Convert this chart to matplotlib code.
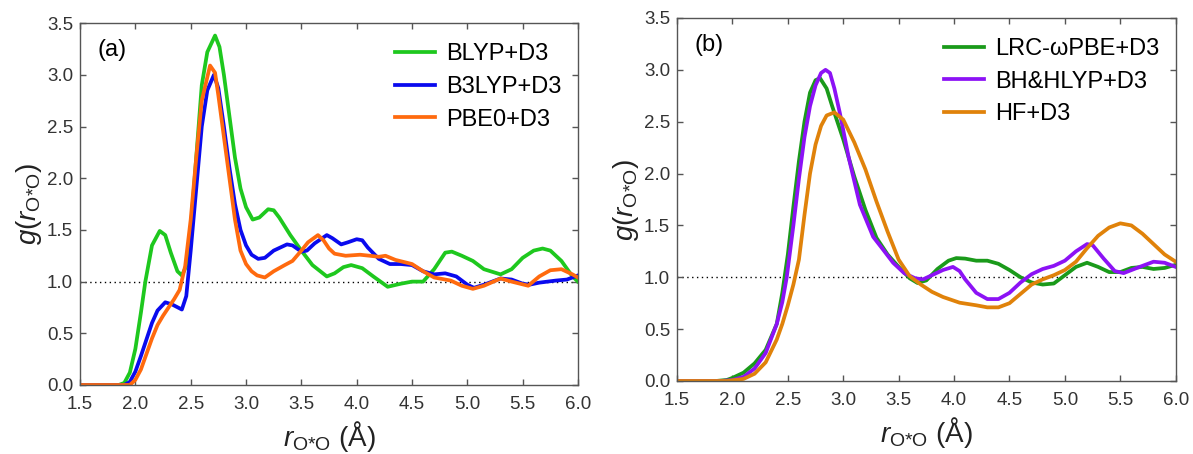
import numpy as np
import matplotlib
matplotlib.use("Agg")
import matplotlib.pyplot as plt

plt.rcParams['font.family'] = ['Liberation Sans', 'DejaVu Sans']
plt.rcParams['mathtext.fontset'] = 'custom'
plt.rcParams['mathtext.rm'] = 'Liberation Sans'
plt.rcParams['mathtext.it'] = 'Liberation Sans:italic'

# ---- panel (a) ----
r_blyp = [1.5, 1.85, 1.9, 1.95, 2.0, 2.05, 2.09, 2.15, 2.22, 2.27, 2.32, 2.38, 2.42, 2.46, 2.5, 2.55,
          2.6, 2.65, 2.72, 2.76, 2.8, 2.85, 2.9, 2.95, 3.0, 3.06, 3.12, 3.2, 3.25, 3.3, 3.4,
          3.5, 3.6, 3.73, 3.8, 3.88, 3.95, 4.05, 4.15, 4.28, 4.4, 4.5, 4.6, 4.7, 4.8, 4.86,
          4.95, 5.05, 5.15, 5.3, 5.4, 5.5, 5.6, 5.68, 5.75, 5.85, 5.95, 6.0]
g_blyp = [0.0, 0.0, 0.02, 0.12, 0.35, 0.7, 1.0, 1.35, 1.49, 1.45, 1.28, 1.1, 1.06, 1.15, 1.5, 2.2,
          2.9, 3.22, 3.38, 3.27, 3.0, 2.6, 2.2, 1.9, 1.72, 1.6, 1.62, 1.7, 1.69, 1.62, 1.45,
          1.3, 1.16, 1.05, 1.08, 1.14, 1.16, 1.13, 1.05, 0.95, 0.98, 1.0, 1.0, 1.12, 1.28, 1.29,
          1.25, 1.2, 1.12, 1.07, 1.12, 1.23, 1.3, 1.32, 1.3, 1.2, 1.05, 1.0]

r_b3lyp = [1.5, 1.9, 1.95, 2.0, 2.05, 2.1, 2.15, 2.2, 2.27, 2.33, 2.42, 2.46, 2.5, 2.55, 2.6, 2.65,
           2.71, 2.75, 2.8, 2.85, 2.9, 2.95, 3.0, 3.05, 3.11, 3.17, 3.25, 3.37, 3.42, 3.5, 3.55,
           3.62, 3.73, 3.78, 3.86, 3.92, 4.0, 4.05, 4.1, 4.2, 4.3, 4.4, 4.5, 4.6, 4.7, 4.8, 4.9,
           5.0, 5.06, 5.15, 5.3, 5.4, 5.5, 5.56, 5.65, 5.8, 5.9, 6.0]
g_b3lyp = [0.0, 0.0, 0.03, 0.13, 0.28, 0.44, 0.6, 0.72, 0.8, 0.78, 0.73, 0.86, 1.3, 1.9, 2.5, 2.85,
           3.0, 2.87, 2.5, 2.1, 1.75, 1.5, 1.35, 1.26, 1.22, 1.23, 1.3, 1.36, 1.35, 1.29, 1.3,
           1.37, 1.45, 1.42, 1.36, 1.38, 1.41, 1.4, 1.33, 1.22, 1.17, 1.17, 1.16, 1.1, 1.07, 1.08, 1.05,
           0.97, 0.94, 0.97, 1.03, 1.02, 0.98, 0.97, 0.99, 1.01, 1.02, 1.06]

r_pbe0 = [1.5, 1.95, 2.0, 2.05, 2.1, 2.15, 2.2, 2.25, 2.3, 2.35, 2.4, 2.45, 2.5, 2.55, 2.6, 2.675,
          2.72, 2.75, 2.8, 2.85, 2.9, 2.95, 3.0, 3.05, 3.1, 3.17, 3.25, 3.35, 3.42, 3.5, 3.56,
          3.65, 3.7, 3.75, 3.8, 3.9, 4.03, 4.12, 4.2, 4.26, 4.35, 4.5, 4.6, 4.7, 4.85, 4.95,
          5.05, 5.15, 5.3, 5.4, 5.55, 5.65, 5.75, 5.85, 5.95, 6.0]
g_pbe0 = [0.0, 0.0, 0.05, 0.15, 0.3, 0.45, 0.58, 0.67, 0.75, 0.83, 0.92, 1.15, 1.6, 2.2, 2.75, 3.09,
          3.02, 2.8, 2.4, 2.0, 1.6, 1.3, 1.17, 1.1, 1.06, 1.04, 1.1, 1.16, 1.2, 1.3, 1.38,
          1.45, 1.4, 1.32, 1.27, 1.25, 1.26, 1.25, 1.24, 1.25, 1.21, 1.17, 1.1, 1.04, 1.01, 0.96,
          0.93, 0.96, 1.03, 1.0, 0.96, 1.05, 1.11, 1.12, 1.07, 1.04]

# ---- panel (b) ----
r_lrc = [1.5, 1.85, 1.95, 2.0, 2.1, 2.2, 2.3, 2.4, 2.45, 2.5, 2.55, 2.6, 2.65, 2.7, 2.75, 2.79,
         2.85, 2.9, 3.0, 3.1, 3.2, 3.3, 3.4, 3.5, 3.6, 3.67, 3.75, 3.85, 3.95, 4.02, 4.1, 4.2,
         4.3, 4.4, 4.5, 4.6, 4.7, 4.8, 4.9, 5.0, 5.1, 5.2, 5.3, 5.4, 5.5, 5.6, 5.7, 5.8, 5.9, 6.0]
g_lrc = [0.0, 0.0, 0.01, 0.03, 0.08, 0.17, 0.3, 0.55, 0.85, 1.22, 1.68, 2.12, 2.5, 2.78, 2.9, 2.92,
         2.82, 2.65, 2.33, 1.97, 1.65, 1.38, 1.22, 1.1, 0.99, 0.945, 0.97, 1.08, 1.16, 1.185, 1.18, 1.16,
         1.16, 1.13, 1.07, 1.0, 0.95, 0.93, 0.94, 1.02, 1.1, 1.14, 1.1, 1.05, 1.05, 1.09, 1.1, 1.08, 1.09, 1.12]

r_bhh = [1.5, 1.9, 2.0, 2.1, 2.2, 2.3, 2.4, 2.45, 2.49, 2.55, 2.6, 2.65, 2.7, 2.75, 2.8, 2.84,
         2.88, 2.92, 2.97, 3.05, 3.15, 3.27, 3.35, 3.45, 3.55, 3.65, 3.72, 3.8, 3.9, 3.99, 4.05,
         4.1, 4.2, 4.3, 4.4, 4.5, 4.6, 4.7, 4.8, 4.9, 5.0, 5.1, 5.2, 5.25, 5.35, 5.45, 5.53,
         5.65, 5.8, 5.9, 6.0]
g_bhh = [0.0, 0.0, 0.01, 0.04, 0.12, 0.27, 0.55, 0.76, 1.0, 1.5, 1.95, 2.35, 2.65, 2.85, 2.97, 3.0,
         2.97, 2.82, 2.58, 2.15, 1.7, 1.39, 1.28, 1.14, 1.04, 0.99, 0.98, 1.02, 1.07, 1.1, 1.06,
         0.98, 0.85, 0.79, 0.79, 0.85, 0.95, 1.03, 1.08, 1.11, 1.16, 1.25, 1.32, 1.31, 1.18, 1.06, 1.04,
         1.09, 1.15, 1.14, 1.1]

r_hf = [1.5, 1.95, 2.1, 2.2, 2.3, 2.4, 2.45, 2.5, 2.55, 2.6, 2.65, 2.7, 2.75, 2.8, 2.85, 2.92,
        3.0, 3.1, 3.2, 3.3, 3.4, 3.5, 3.6, 3.7, 3.8, 3.9, 4.05, 4.2, 4.3, 4.4, 4.5, 4.6,
        4.7, 4.8, 4.9, 5.0, 5.1, 5.2, 5.3, 5.4, 5.5, 5.6, 5.7, 5.8, 5.9, 6.0]
g_hf = [0.0, 0.0, 0.02, 0.07, 0.18, 0.4, 0.55, 0.73, 0.93, 1.17, 1.6, 2.0, 2.28, 2.46, 2.56, 2.59,
        2.52, 2.3, 2.04, 1.73, 1.44, 1.17, 1.01, 0.93, 0.86, 0.81, 0.755, 0.73, 0.71, 0.71, 0.75, 0.84,
        0.93, 0.98, 1.02, 1.07, 1.15, 1.28, 1.4, 1.48, 1.52, 1.5, 1.42, 1.32, 1.22, 1.15]

xticks = [1.5, 2.0, 2.5, 3.0, 3.5, 4.0, 4.5, 5.0, 5.5, 6.0]
yticks = [0.0, 0.5, 1.0, 1.5, 2.0, 2.5, 3.0, 3.5]

panels = [
    ('(a)', [(r_blyp, g_blyp, '#1ec81e', 'BLYP+D3'),
             (r_b3lyp, g_b3lyp, '#0a0aee', 'B3LYP+D3'),
             (r_pbe0, g_pbe0, '#ff6a0e', 'PBE0+D3')]),
    ('(b)', [(r_lrc, g_lrc, '#1a9a1a', 'LRC-ωPBE+D3'),
             (r_bhh, g_bhh, '#8c12f5', 'BH&HLYP+D3'),
             (r_hf, g_hf, '#e0820a', 'HF+D3')]),
]

fig = plt.figure(figsize=(11.93, 4.54), dpi=100)
rects = [[0.0671, 0.152, 0.4174, 0.797], [0.5675, 0.1608, 0.418, 0.7996]]

for rect, (tag, series) in zip(rects, panels):
    ax = fig.add_axes(rect)
    for x, y, c, lab in series:
        ax.plot(x, y, color=c, lw=2.7, label=lab, solid_joinstyle='round')
    ax.axhline(1.0, color='k', ls=(0, (1, 2.5)), lw=1.0, zorder=0)
    ax.set_xlim(1.5, 6.0)
    ax.set_ylim(0.0, 3.5)
    ax.set_xticks(xticks)
    ax.set_yticks(yticks)
    ax.set_xticklabels(['%.1f' % v for v in xticks])
    ax.set_yticklabels(['%.1f' % v for v in yticks])
    ax.tick_params(direction='in', length=4, width=1, color='#555555', labelsize=13.5,
                   labelcolor='#333333', top=True, right=True)
    ax.tick_params(axis='x', pad=8)
    ax.tick_params(axis='y', pad=5)
    for s in ax.spines.values():
        s.set_color('#555555')
        s.set_linewidth(1.0)
    ax.set_xlabel(r'$r_{\mathrm{O{*}O}}$ (Å)', fontsize=20, color='#222222', labelpad=4)
    ax.set_ylabel(r'$g(r_{\mathrm{O{*}O}})$', fontsize=20, color='#222222', labelpad=2)
    ax.text(0.035, 0.925, tag, transform=ax.transAxes, fontsize=17, va='center', ha='left')
    ax.legend(loc='upper right', frameon=False, fontsize=17, handlelength=1.7,
              handletextpad=0.45, labelspacing=0.45, borderaxespad=0.3,
              bbox_to_anchor=(1.0, 0.99))

fig.savefig('out.png', dpi=100)
